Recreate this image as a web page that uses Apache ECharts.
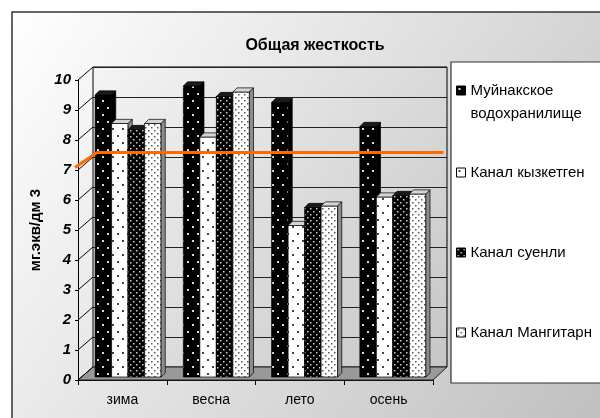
<!DOCTYPE html>
<html>
<head>
<meta charset="UTF-8">
<title>Общая жесткость</title>
<script type="text/javascript" src="https://cdn.jsdelivr.net/npm/echarts@6/dist/echarts.min.js"></script>
</head>
<body style="margin:0">
<div id="main" style="width:600px;height:418px"></div>

<script type="text/javascript">
// данные (мг.экв/дм3)
var seasons = ['зима', 'весна', 'лето', 'осень'];
var muynak = [9.4, 9.7, 9.15, 8.35];
var kyzketgen = [8.45, 8.0, 5.05, 6.0];
var suenli = [8.25, 9.35, 5.65, 6.05];
var mangitarn = [8.45, 9.5, 5.7, 6.1];
var seriesNames = ['Муйнакское\nводохранилище', 'Канал кызкетген', 'Канал суенли', 'Канал Мангитарн'];
var yTicks = [0, 1, 2, 3, 4, 5, 6, 7, 8, 9, 10];
var normValue = 7.15;

// раскладка (пиксели)
var back = {left: 93, top: 67, width: 354, height: 300};   // задняя стенка
var front = {left: 78, top: 80, width: 355, height: 300};  // передняя ось
var bars = {left: 84, top: 77, width: 353, height: 300};   // столбики

function dotPattern(bg, fg, w, h, pts, r) {
  var c = document.createElement('canvas');
  c.width = w; c.height = h;
  var ctx = c.getContext('2d');
  ctx.fillStyle = bg;
  ctx.fillRect(0, 0, w, h);
  ctx.fillStyle = fg;
  pts.forEach(function (p) { ctx.fillRect(p[0], p[1], r, r); });
  return {image: c, repeat: 'repeat'};
}

var patterns = [
  dotPattern('#000', '#d8d8d8', 10, 14, [[2, 2], [7, 9]], 2),
  dotPattern('#fff', '#444', 10, 14, [[2, 2], [7, 9]], 2),
  dotPattern('#000', '#d0d0d0', 6, 6, [[1, 1], [4, 4]], 1.5),
  dotPattern('#fff', '#555', 6, 6, [[1, 1], [4, 4]], 1.5)
];
var topFills = ['#1a1a1a', '#d4d4d4', '#1a1a1a', '#d4d4d4'];
var sideFills = ['#000', '#8c8c8c', '#000', '#8c8c8c'];
var values = [muynak, kyzketgen, suenli, mangitarn];

function bar3d(k) {
  return function (params, api) {
    var cat = api.value(0), v = api.value(1);
    var base = api.coord([cat, 0]);
    var top = api.coord([cat, v]);
    var band = api.size([1, 0])[0];
    var bw = band * 0.187;
    var d = bw * 0.25;
    var x0 = base[0] - 2 * bw + k * bw;
    var x1 = x0 + bw;
    return {
      type: 'group',
      children: [
        {type: 'rect', shape: {x: x0, y: top[1], width: bw, height: base[1] - top[1]},
          style: {fill: patterns[k], stroke: '#000', lineWidth: 0.7}},
        {type: 'polygon', shape: {points: [[x0, top[1]], [x0 + d, top[1] - d], [x1 + d, top[1] - d], [x1, top[1]]]},
          style: {fill: topFills[k], stroke: '#000', lineWidth: 0.7}},
        {type: 'polygon', shape: {points: [[x1, top[1]], [x1 + d, top[1] - d], [x1 + d, base[1] - d], [x1, base[1]]]},
          style: {fill: sideFills[k], stroke: '#000', lineWidth: 0.7}}
      ]
    };
  };
}

var series = values.map(function (vals, k) {
  return {
    name: seriesNames[k],
    type: 'custom',
    xAxisIndex: 1,
    yAxisIndex: 1,
    z: 3 + k,
    itemStyle: {color: patterns[k]},
    renderItem: bar3d(k),
    encode: {x: 0, y: 1},
    data: vals.map(function (v, i) { return [i, v]; })
  };
});

series.push({
  name: 'норма',
  type: 'line',
  xAxisIndex: 0,
  yAxisIndex: 0,
  z: 10,
  symbol: 'none',
  silent: true,
  lineStyle: {color: '#ff6a00', width: 3},
  data: [[0.01, normValue], [0.99, normValue]]
});

var legendTops = [56, 165, 245, 325];
var legends = seriesNames.map(function (n, k) {
  return {
    data: [{name: n, itemStyle: {color: patterns[k], borderColor: '#000', borderWidth: 1}}],
    left: 456,
    top: legendTops[k],
    padding: 0,
    icon: 'rect',
    itemWidth: 9,
    itemHeight: 9,
    itemGap: 5,
    selectedMode: false,
    // у первой записи значок стоит против первой строки
    formatter: k === 0 ? function (name) { return '\n' + name; } : '{name}',
    textStyle: k === 0
      ? {fontFamily: 'Liberation Sans', fontSize: 15, color: '#000', lineHeight: 23}
      : {fontFamily: 'Liberation Sans', fontSize: 15, color: '#000'}
  };
});

var mychart = echarts.init(document.getElementById('main'));
var option = {
  animation: false,
  title: {
    text: 'Общая жесткость',
    left: 310,
    textAlign: 'center',
    top: 33,
    textStyle: {fontFamily: 'Liberation Sans', fontSize: 16, fontWeight: 'bold', color: '#000'}
  },
  legend: legends,
  grid: [
    {left: back.left, top: back.top, width: back.width, height: back.height, show: true,
      backgroundColor: new echarts.graphic.LinearGradient(0, 0, 1, 1, [
        {offset: 0, color: '#f4f4f4'}, {offset: 1, color: '#c6c6c6'}]),
      borderColor: '#000', borderWidth: 1},
    {left: bars.left, top: bars.top, width: bars.width, height: bars.height},
    {left: front.left, top: front.top, width: front.width, height: front.height}
  ],
  xAxis: [
    {gridIndex: 0, type: 'value', min: 0, max: 1, show: false},
    {gridIndex: 1, type: 'category', data: seasons, show: false},
    {gridIndex: 2, type: 'category', data: seasons,
      axisLine: {show: true, lineStyle: {color: '#000', width: 1}},
      axisTick: {show: true, length: 5, lineStyle: {color: '#000'}},
      axisLabel: {fontFamily: 'Liberation Sans', fontSize: 14, color: '#000', margin: 13},
      splitLine: {show: false}}
  ],
  yAxis: [
    {gridIndex: 0, type: 'value', min: 0, max: 10, interval: 1,
      axisLine: {show: false}, axisTick: {show: false}, axisLabel: {show: false},
      splitLine: {show: true, lineStyle: {color: '#222', width: 1}}},
    {gridIndex: 1, type: 'value', min: 0, max: 10, interval: 1, show: false},
    {gridIndex: 2, type: 'value', min: 0, max: 10, interval: 1,
      name: 'мг.экв/дм 3', nameLocation: 'middle', nameRotate: 90, nameGap: 33,
      nameTextStyle: {fontFamily: 'Liberation Sans', fontSize: 15, fontWeight: 'bold', color: '#000'},
      axisLine: {show: true, lineStyle: {color: '#000', width: 1}},
      axisTick: {show: true, length: 3, lineStyle: {color: '#000'}},
      axisLabel: {fontFamily: 'Liberation Sans', fontSize: 15, fontWeight: 'bold', fontStyle: 'italic',
        color: '#000', margin: 7,
        formatter: function (v) { return yTicks.indexOf(v) >= 0 ? String(v) : ''; }},
      splitLine: {show: false}}
  ],
  series: series
};
mychart.setOption(option);

// объёмные детали: фон, пол, диагональные штрихи, рамка легенды
function yFront(v) { return mychart.convertToPixel({yAxisIndex: 2}, v); }
function yBack(v) { return mychart.convertToPixel({yAxisIndex: 0}, v); }

var els = [
  {type: 'rect', z: -10, shape: {x: 12, y: 12, width: 620, height: 430},
    style: {fill: new echarts.graphic.LinearGradient(0, 0, 1, 1, [
      {offset: 0, color: '#ffffff'}, {offset: 1, color: '#bcbcbc'}]), stroke: '#333', lineWidth: 1.5}},
  {type: 'rect', z: -5, shape: {x: 451, y: 62, width: 300, height: 321},
    style: {fill: '#fff', stroke: '#333', lineWidth: 1.2}},
  {type: 'polygon', z: 1, shape: {points: [
      [front.left, yFront(0)], [front.left + front.width, yFront(0)],
      [back.left + back.width, yBack(0)], [back.left, yBack(0)]]},
    style: {fill: '#999', stroke: '#222', lineWidth: 1}},
  {type: 'line', z: 10, shape: {x1: front.left - 3, y1: yFront(normValue) + 2, x2: back.left + 4, y2: yBack(normValue)},
    style: {stroke: '#ff6a00', lineWidth: 3}}
];
yTicks.forEach(function (v) {
  els.push({type: 'line', z: 1, shape: {x1: front.left, y1: yFront(v), x2: back.left, y2: yBack(v)},
    style: {stroke: '#000', lineWidth: 1}});
});
mychart.setOption({graphic: {elements: els}});
</script>
</body>
</html>
